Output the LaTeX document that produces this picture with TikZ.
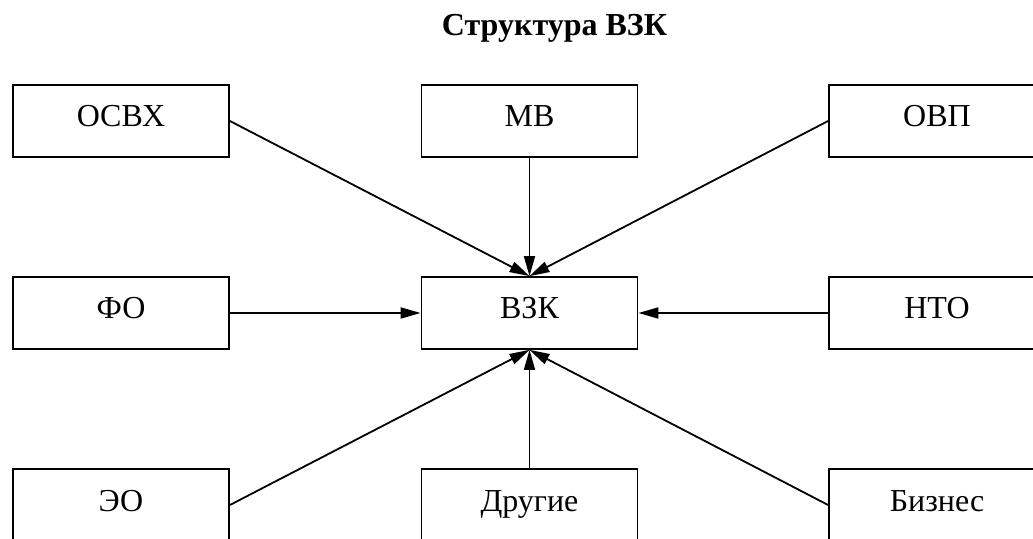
\documentclass[tikz,border=0pt]{standalone}
\usepackage{fontspec}
\setmainfont{Liberation Serif}
\usetikzlibrary{positioning,arrows.meta}

\begin{document}
\begin{tikzpicture}[x=1pt,y=1pt,
    unit/.style={draw,line width=1.8pt,minimum width=216pt,minimum height=72pt,
      text height=22pt,text depth=10pt,font=\fontsize{32}{38}\selectfont},
    link/.style={line width=1.8pt,-{Triangle[length=20pt,width=11pt]}}]

  % page frame
  \useasboundingbox (0,0) rectangle (1033,538);

  % title
  \node[font=\bfseries\fontsize{32}{38}\selectfont] (title) at (554.5,510) {Структура ВЗК};

  % central unit
  \node[unit] (VZK) at (529.5,225) {ВЗК};

  % top row
  \node[unit] (OSVH) at (121,417) {ОСВХ};
  \node[unit] (MV) at (529.5,417) {МВ};
  \node[unit] (OVP) at (937,417) {ОВП};

  % middle row
  \node[unit] (FO) at (121,225) {ФО};
  \node[unit] (NTO) at (937,225) {НТО};

  % bottom row
  \node[unit] (EO) at (121,33) {ЭО};
  \node[unit] (Drugie) at (529.5,33) {Другие};
  \node[unit] (Biznes) at (937,33) {Бизнес};

  % links into the central unit
  \draw[link] (OSVH.east) -- (VZK.north);
  \draw[link] (MV.south) -- (VZK.north);
  \draw[link] (OVP.west) -- (VZK.north);
  \draw[link] (FO.east) -- (VZK.west);
  \draw[link] (NTO.west) -- (VZK.east);
  \draw[link] (EO.east) -- (VZK.south);
  \draw[link] (Drugie.north) -- (VZK.south);
  \draw[link] (Biznes.west) -- (VZK.south);

\end{tikzpicture}
\end{document}
